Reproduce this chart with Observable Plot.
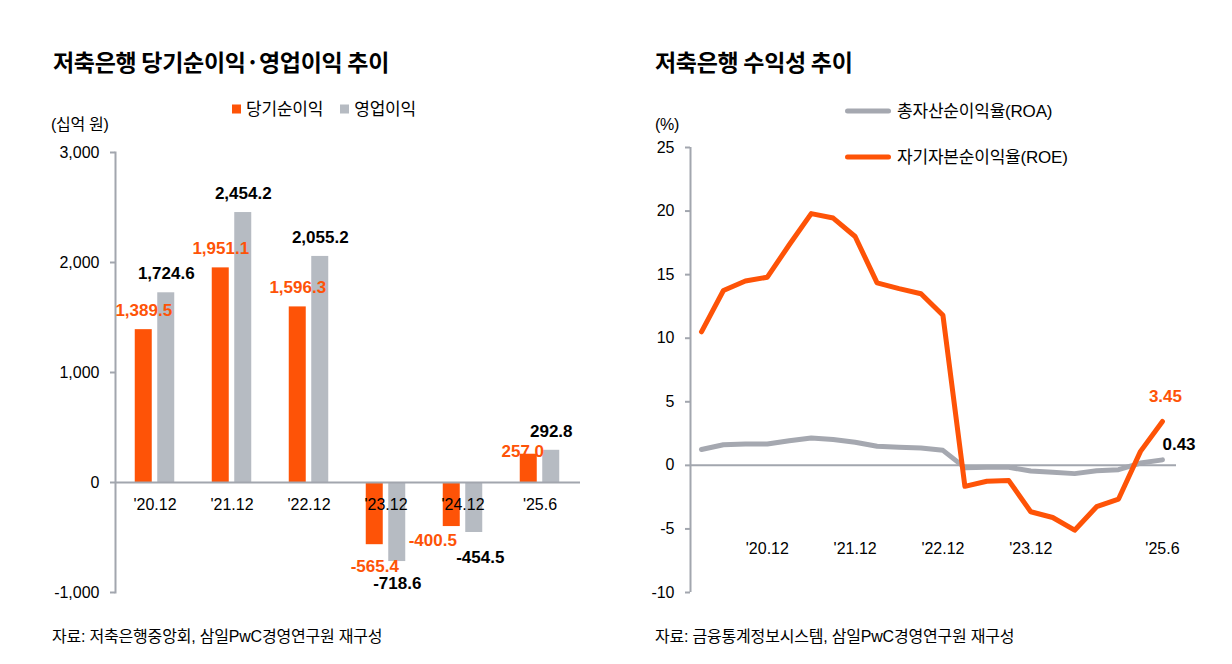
<!DOCTYPE html>
<html>
<head>
<meta charset="utf-8">
<script src="https://cdn.jsdelivr.net/npm/d3@7"></script>
<script src="https://cdn.jsdelivr.net/npm/@observablehq/plot@0.6"></script>
<style>
  html, body { margin: 0; padding: 0; background: #fff; }
  body { width: 1232px; height: 664px; position: relative; overflow: hidden;
         font-family: "Liberation Sans", "Noto Sans CJK KR", sans-serif; color: #000; }
  .abs { position: absolute; white-space: nowrap; }
  .kr { font-family: "Liberation Sans", "Noto Sans CJK KR", sans-serif; }
  .title { font-family: "Noto Sans CJK KR", sans-serif; font-weight: 700; font-size: 23px; letter-spacing: -0.3px; line-height: 23px; transform: translateY(-50%); }
  .unit { font-size: 16px; line-height: 16px; letter-spacing: -0.3px; transform: translateY(-50%); }
  .legend { font-size: 17px; line-height: 17px; letter-spacing: -0.2px; transform: translateY(-50%); display: flex; align-items: center; }
  .sq { display: inline-block; width: 9px; height: 9px; margin-right: 5px; }
  .sw { display: inline-block; width: 46px; height: 5px; border-radius: 2.5px; margin-right: 6px; }
  .caption { font-size: 16px; line-height: 16px; letter-spacing: -0.2px; transform: translateY(-50%); }
  .chart { position: absolute; top: 130px; }
</style>
</head>
<body>
<script>
// ---------- Data: left chart ----------
const categories = ["'20.12", "'21.12", "'22.12", "'23.12", "'24.12", "'25.6"];
const netIncome  = [1389.5, 1951.1, 1596.3, -565.4, -400.5, 257.0];   // 당기순이익
const opIncome   = [1724.6, 2454.2, 2055.2, -718.6, -454.5, 292.8];   // 영업이익
const seriesNames = ["당기순이익", "영업이익"];
const leftTicks = [-1000, 0, 1000, 2000, 3000];

// ---------- Data: right chart ----------
const quarters = ["'20.3", "'20.6", "'20.9", "'20.12", "'21.3", "'21.6", "'21.9", "'21.12",
                  "'22.3", "'22.6", "'22.9", "'22.12", "'23.3", "'23.6", "'23.9", "'23.12",
                  "'24.3", "'24.6", "'24.9", "'24.12", "'25.3", "'25.6"];
const roa = [1.25, 1.62, 1.68, 1.68, 1.93, 2.15, 2.03, 1.82, 1.5, 1.42, 1.36, 1.18,
             -0.18, -0.15, -0.15, -0.45, -0.55, -0.65, -0.42, -0.34, 0.18, 0.43];
const roe = [10.5, 13.75, 14.5, 14.8, 17.35, 19.8, 19.45, 18.0, 14.35, 13.9, 13.5, 11.8,
             -1.65, -1.25, -1.2, -3.65, -4.1, -5.1, -3.25, -2.65, 1.1, 3.45];
const rightSeries = ["총자산순이익율(ROA)", "자기자본순이익율(ROE)"];
const rightTicks = [-10, -5, 0, 5, 10, 15, 20, 25];
const rightXLabels = ["'20.12", "'21.12", "'22.12", "'23.12", "'25.6"];

// ---------- Styles ----------
const ORANGE = "#fe5307";
const BAR_GRAY = "#b6bbc2";
const LINE_GRAY = "#a5a8b0";
const AXIS = "#a2a6ae";
const NUM_FONT = "'Liberation Sans', Arial, sans-serif";
const hyphen = s => s.replace(/\u2212/g, "-");
const fmtTick = d => hyphen(d3.format(",")(d));
const fmt1 = d => hyphen(d3.format(",.1f")(d));

// ---------- Static texts ----------
function addText(cls, html, left, top) {
  const d = document.createElement("div");
  d.className = "abs " + cls;
  d.style.left = left + "px";
  d.style.top = top + "px";
  d.innerHTML = html;
  document.body.appendChild(d);
  return d;
}
addText("title", "저축은행 당기순이익·영업이익 추이", 53, 61);
addText("title", "저축은행 수익성 추이", 655, 61);
addText("kr unit", "(십억 원)", 51, 125);
addText("kr unit", "(%)", 655, 125);
addText("kr legend",
  `<span class="sq" style="background:${ORANGE}"></span><span>${seriesNames[0]}</span>` +
  `<span class="sq" style="background:${BAR_GRAY};margin-left:17px"></span><span>${seriesNames[1]}</span>`,
  232, 109);
addText("kr legend", `<span class="sw" style="background:${LINE_GRAY}"></span><span>${rightSeries[0]}</span>`, 845, 111);
addText("kr legend", `<span class="sw" style="background:${ORANGE}"></span><span>${rightSeries[1]}</span>`, 845, 157);
addText("kr caption", "자료: 저축은행중앙회, 삼일PwC경영연구원 재구성", 52, 637);
addText("kr caption", "자료: 금융통계정보시스템, 삼일PwC경영연구원 재구성", 655, 637);

// ---------- Left chart ----------
const barData = categories.map((c, i) => ({cat: c, net: netIncome[i], op: opIncome[i]}));
const HALF = 11.25; // half distance between the paired bars (px)
// per-label nudges (px) relative to the default placement
const nudge = {
  "'24.12": {net: [-19, -8], op: [6, 3]},
  "'25.6":  {net: [-6, 16],  op: [0, 0]}
};
function labelMarks(key, color, baseDx) {
  return barData.map(d => {
    const n = (nudge[d.cat] && nudge[d.cat][key]) || [0, 0];
    const v = d[key];
    return Plot.text([d], {
      x: "cat", y: key, text: dd => fmt1(dd[key]),
      dx: baseDx + n[0], dy: (v >= 0 ? -19 : 22) + n[1],
      lineAnchor: "middle", fill: color, fontWeight: "bold", fontSize: 17
    });
  });
}

const left = Plot.plot({
  width: 616, height: 480,
  marginLeft: 115, marginRight: 36, marginTop: 22, marginBottom: 18,
  style: {fontFamily: NUM_FONT, fontSize: "16px", color: "#000", background: "transparent"},
  x: {domain: categories, paddingInner: 0.774, paddingOuter: 0.387, axis: null},
  y: {domain: [-1000, 3000], axis: null},
  marks: [
    Plot.barY(barData, {x: "cat", y: "net", fill: ORANGE, dx: -HALF}),
    Plot.barY(barData, {x: "cat", y: "op", fill: BAR_GRAY, dx: HALF}),
    Plot.ruleY([0], {stroke: AXIS, strokeWidth: 2}),
    Plot.frame({anchor: "left", stroke: AXIS, strokeWidth: 2}),
    Plot.axisY(leftTicks, {tickSize: 5, tickPadding: 11, stroke: AXIS, strokeWidth: 2, fill: "#000",
                           tickFormat: fmtTick, fontSize: 16}),
    Plot.text(categories, {x: d => d, y: 0, text: d => d, dy: 22, lineAnchor: "middle", fill: "#000", fontSize: 16}),
    ...labelMarks("net", ORANGE, -HALF),
    ...labelMarks("op", "#000", HALF)
  ]
});
left.classList.add("chart");
left.style.left = "0px";
document.body.appendChild(left);

// ---------- Right chart ----------
const lineData = quarters.map((q, i) => ({i, q, roa: roa[i], roe: roe[i]}));
const last = lineData[lineData.length - 1];
const right = Plot.plot({
  width: 616, height: 480,
  marginLeft: 74, marginRight: 56, marginTop: 17, marginBottom: 18,
  style: {fontFamily: NUM_FONT, fontSize: "16px", color: "#000", background: "transparent"},
  x: {domain: [-0.5, quarters.length - 0.36], axis: null},
  y: {domain: [-10, 25], axis: null},
  marks: [
    Plot.ruleY([0], {stroke: AXIS, strokeWidth: 2}),
    Plot.ruleX([-0.5], {stroke: AXIS, strokeWidth: 2}),
    Plot.axisY(rightTicks, {tickSize: 5, tickPadding: 11, stroke: AXIS, strokeWidth: 2, fill: "#000",
                            tickFormat: fmtTick, fontSize: 16}),
    Plot.text(rightXLabels, {x: d => quarters.indexOf(d), y: 0, text: d => d, dy: 84, lineAnchor: "middle", fill: "#000", fontSize: 16}),
    Plot.line(lineData, {x: "i", y: "roa", stroke: LINE_GRAY, strokeWidth: 5, strokeLinejoin: "round", strokeLinecap: "round"}),
    Plot.line(lineData, {x: "i", y: "roe", stroke: ORANGE, strokeWidth: 5, strokeLinejoin: "round", strokeLinecap: "round"}),
    Plot.text([last], {x: "i", y: "roe", text: d => d.roe.toFixed(2), dx: 3, dy: -25, lineAnchor: "middle",
                       fill: ORANGE, fontWeight: "bold", fontSize: 17}),
    Plot.text([last], {x: "i", y: "roa", text: d => d.roa.toFixed(2), dx: 0, dy: -15, textAnchor: "start",
                       lineAnchor: "middle", fill: "#000", fontWeight: "bold", fontSize: 17})
  ]
});
right.classList.add("chart");
right.style.left = "616px";
document.body.appendChild(right);
</script>
</body>
</html>
